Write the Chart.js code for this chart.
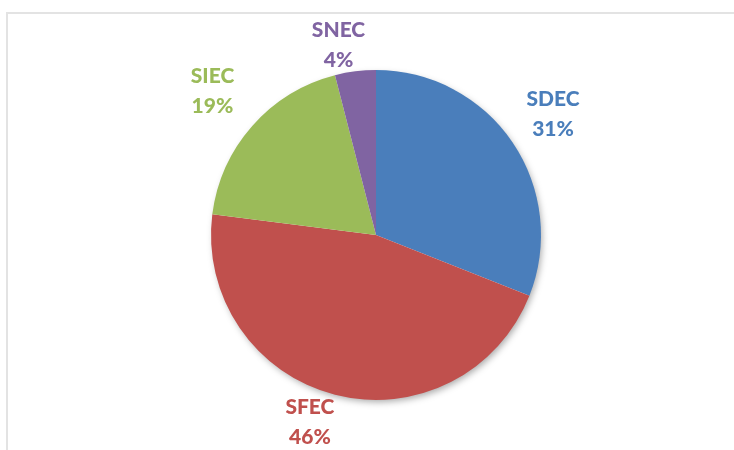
<!DOCTYPE html>
<html>
<head>
<meta charset="utf-8">
<script src="https://cdn.jsdelivr.net/npm/chart.js@4"></script>
<style>
    html, body { margin: 0; padding: 0; background: #fff; }
    .wrap { position: relative; width: 734px; height: 450px; overflow: hidden; }
    .frame {
        position: absolute; left: 6px; top: 12px; width: 740px; height: 450px;
        border-top: 2px solid #e3e3e3; border-left: 2px solid #e3e3e3;
        box-sizing: border-box;
    }
    canvas { position: absolute; left: 0; top: 0; }
</style>
</head>
<body>
<div class="wrap">
    <div class="frame"></div>
    <canvas id="pie" width="734" height="450"></canvas>
</div>
<script>
const categories = ["SDEC", "SFEC", "SIEC", "SNEC"];
const shares = [31, 46, 19, 4];
const colors = ["#4a7ebb", "#c0504d", "#9bbb59", "#8064a2"];

// drop shadow under the whole disc, drawn once before the slices
const pieShadow = {
    id: "pieShadow",
    beforeDatasetsDraw(chart) {
        const arc = chart.getDatasetMeta(0).data[0];
        if (!arc) return;
        const c = chart.ctx;
        c.save();
        c.shadowColor = "rgba(0,0,0,0.35)";
        c.shadowBlur = 7;
        c.shadowOffsetX = 2;
        c.shadowOffsetY = 3;
        c.fillStyle = "#fff";
        c.beginPath();
        c.arc(arc.x, arc.y, arc.outerRadius - 1, 0, Math.PI * 2);
        c.fill();
        c.restore();
    }
};

// name + percentage outside each slice
const outsideLabels = {
    id: "outsideLabels",
    afterDatasetsDraw(chart, args, opts) {
        const c = chart.ctx;
        const meta = chart.getDatasetMeta(0);
        c.save();
        c.font = "900 21px Lato, 'Open Sans', sans-serif";
        c.textAlign = "center";
        c.textBaseline = "middle";
        meta.data.forEach((arc, i) => {
            const mid = (arc.startAngle + arc.endAngle) / 2 + (opts.nudge[i] || 0) * Math.PI / 180;
            const r = arc.outerRadius + opts.extra[i];
            const x = arc.x + Math.cos(mid) * r;
            const y = arc.y + Math.sin(mid) * r;
            c.fillStyle = colors[i];
            c.fillText(categories[i], x, y - 15);
            c.fillText(shares[i] + "%", x, y + 15);
        });
        c.restore();
    }
};

new Chart(document.getElementById("pie"), {
    type: "pie",
    data: {
        labels: categories,
        datasets: [{
            data: shares,
            backgroundColor: colors,
            borderWidth: 0
        }]
    },
    options: {
        responsive: false,
        animation: false,
        layout: { padding: { left: 211, right: 193, top: 70, bottom: 50 } },
        plugins: {
            legend: { display: false },
            tooltip: { enabled: false },
            outsideLabels: { extra: [49, 34, 53, 28], nudge: [0, 5, 0, -4] }
        }
    },
    plugins: [pieShadow, outsideLabels]
});
</script>
</body>
</html>
